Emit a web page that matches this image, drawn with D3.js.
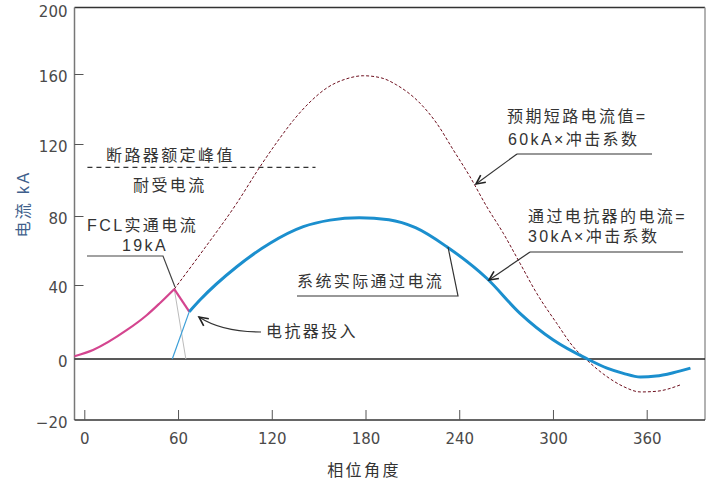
<!DOCTYPE html>
<html>
<head>
<meta charset="utf-8">
<script src="https://cdn.jsdelivr.net/npm/d3@7"></script>
<style>
body{margin:0;background:#fff;}
svg{display:block;}
.cjk{font-family:"Liberation Sans","Noto Sans CJK SC",sans-serif;font-size:16px;fill:#333;letter-spacing:2.4px;}
.tick_lbl{font-family:"DejaVu Sans",sans-serif;font-size:15px;fill:#4a4a4a;}
</style>
</head>
<body>
<svg id="chart" width="726" height="489"></svg>
<script>
//--------------------- data (phase deg, kA)
let x_ticks=[0,60,120,180,240,300,360];
let y_ticks=[-20,0,40,80,120,160,200];

let fcl_deg=[-6.3,5.6,27.3,40.1,48.5,57.6];
let fcl_ka=[1.5,4.9,15.7,23.8,30.3,37.8];

let fcl_drop_deg=[57.6,67.2];
let fcl_drop_ka=[37.8,25.6];

let reactor_deg=[67.2,74,97.6,118.9,140.2,157.3,176,195,212,232,257.6,278.9,300,322,334.6,345,356,366,377,388];
let reactor_ka=[25.6,31.9,50.6,64.2,73.8,77.6,79,77.8,73.2,62.2,43.9,24.7,10.4,0,-3,-4.7,-5.9,-5.6,-4.5,-3];

let prospect_deg=[57.6,76.2,97.6,112.5,125.3,133.8,144.5,155.2,168,178.6,190,200,214.9,225.6,236.2,246.9,257.6,268.2,278.9,289.6,302.4,313,322,334.6,345,356,366,382.5];
let prospect_ka=[37.8,60.3,87.1,107.4,123.5,133.5,144,152,157.3,159,157.8,153.7,143.3,131.8,116.7,101.8,85.2,70,52.6,35.5,19.3,6.6,-0.5,-5.8,-9,-10.8,-10.6,-8.3];

let reactor_rise_deg=[56.3,67.2];
let reactor_rise_ka=[0,25.6];

let fcl_cut_deg=[57.6,65];
let fcl_cut_ka=[37.8,0];

let breaker_ka=107;
let breaker_deg=[2,148];

//--------------------- scales (y axis of the original is uneven, so piecewise)
let svg=d3.select("#chart");
let x=d3.scaleLinear().domain([0,360]).range([84.3,646.7]);
let y=d3.scaleLinear().domain(y_ticks).range([420,359,285,216,144,74,9]);
let f_left=74.5,f_right=705,f_top=7.5,f_bottom=420;

function pts(a,b){return a.map((d,i)=>[d,b[i]]);}
let line=d3.line().x(d=>x(d[0])).y(d=>y(d[1]));
let smooth=d3.line().x(d=>x(d[0])).y(d=>y(d[1])).curve(d3.curveMonotoneX);

//--------------------- frame
svg.append("line").attr("x1",f_left).attr("y1",f_top).attr("x2",f_right).attr("y2",f_top).attr("stroke","#333").attr("stroke-width",1.5);
svg.append("line").attr("x1",f_right).attr("y1",f_top).attr("x2",f_right).attr("y2",f_bottom).attr("stroke","#999").attr("stroke-width",1.5);

// axes with inner ticks
let yAxis=d3.axisLeft(y).tickValues(y_ticks).tickSize(-9).tickPadding(7).tickFormat(d=>d<0?"\u2212"+(-d):d);
let gy=svg.append("g").attr("transform","translate("+f_left+",0)").call(yAxis);
let xAxis=d3.axisBottom(x).tickValues(x_ticks).tickSize(-10).tickPadding(13);
let gx=svg.append("g").attr("transform","translate(0,"+f_bottom+")").call(xAxis);
[gx,gy].forEach(g=>{
    g.select(".domain").attr("stroke","#666").attr("stroke-width",1.5);
    g.selectAll(".tick line").attr("stroke","#555");
    g.selectAll(".tick text").attr("class","tick_lbl").attr("fill",null);
});
gx.select(".domain").attr("d","M"+f_left+",0H"+f_right).attr("stroke","#333");
gy.select(".domain").attr("d","M0,"+f_top+"V"+f_bottom).attr("stroke","#777");
gy.selectAll(".tick").filter(d=>d==200||d==-20||d==0).select("line").remove();
gy.selectAll(".tick text").attr("dy","0.5em");
gy.selectAll(".tick").filter(d=>d==-20).select("text").attr("fill","#777");

// zero line
svg.append("line").attr("x1",f_left).attr("x2",f_right).attr("y1",y(0)).attr("y2",y(0)).attr("stroke","#222").attr("stroke-width",1.3);

//--------------------- curves
svg.append("path").attr("d",line(pts(fcl_cut_deg,fcl_cut_ka))).attr("fill","none").attr("stroke","#bbb").attr("stroke-width",1);
svg.append("path").attr("d",line(pts(reactor_rise_deg,reactor_rise_ka))).attr("fill","none").attr("stroke","#3c9fd8").attr("stroke-width",1.2);
svg.append("path").attr("d",smooth(pts(prospect_deg,prospect_ka))).attr("fill","none").attr("stroke","#6e0f1e").attr("stroke-width",1).attr("stroke-dasharray","3,2");
svg.append("path").attr("d",smooth(pts(fcl_deg,fcl_ka))).attr("fill","none").attr("stroke","#d4458f").attr("stroke-width",2.2);
svg.append("path").attr("d",line(pts(fcl_drop_deg,fcl_drop_ka))).attr("fill","none").attr("stroke","#d4458f").attr("stroke-width",2.2);
svg.append("path").attr("d",smooth(pts(reactor_deg,reactor_ka))).attr("fill","none").attr("stroke","#1b8fce").attr("stroke-width",3);

// breaker rating dashed line
svg.append("line").attr("x1",x(breaker_deg[0])).attr("x2",x(breaker_deg[1])).attr("y1",y(breaker_ka)).attr("y2",y(breaker_ka))
    .attr("stroke","#333").attr("stroke-width",1.2).attr("stroke-dasharray","5,4");

//--------------------- annotations
function txt(s,x0,yc){
    svg.append("text").attr("class","cjk").attr("x",x0).attr("y",yc).attr("dy","0.36em").text(s);
}
txt("断路器额定峰值",106,155);
txt("耐受电流",133,185);
txt("FCL实通电流",87,225);
txt("19kA",122,245);
txt("电抗器投入",266,331);
txt("系统实际通过电流",297,281);
txt("预期短路电流值=",507,116);
txt("60kA×冲击系数",508,139);
txt("通过电抗器的电流=",528,216);
txt("30kA×冲击系数",528,236);

// leader lines
let leader=(d,c)=>svg.append("path").attr("d",d).attr("fill","none").attr("stroke",c||"#333").attr("stroke-width",1.2);
leader("M87,256H163L175,287","#444");
leader("M297,296H458L448,247");
leader("M517,154H652");
leader("M530,252H683");

// arrows
let arrow=(d,tx,ty,ang)=>{
    leader(d);
    let a1=ang+0.45,a2=ang-0.45,l=10;
    svg.append("path").attr("d","M"+(tx+l*Math.cos(a1))+","+(ty+l*Math.sin(a1))+"L"+tx+","+ty+"L"+(tx+l*Math.cos(a2))+","+(ty+l*Math.sin(a2)))
        .attr("fill","none").attr("stroke","#222").attr("stroke-width",1.6);
};
arrow("M261,332Q222,332 199,317",199,317,Math.atan2(317-328,199-214)+Math.PI);
arrow("M517,154L476,184",476,184,Math.atan2(154-184,517-476));
arrow("M530,252L489,280",489,280,Math.atan2(252-280,530-489));

//--------------------- axis titles
svg.append("text").attr("class","cjk").attr("text-anchor","middle").attr("transform","translate(23,204) rotate(-90)")
    .attr("dy","0.36em").style("fill","#3f5f8c").text("电流  kA");
svg.append("text").attr("class","cjk").attr("text-anchor","middle").attr("x",364).attr("y",470).attr("dy","0.36em").text("相位角度");
</script>
</body>
</html>
